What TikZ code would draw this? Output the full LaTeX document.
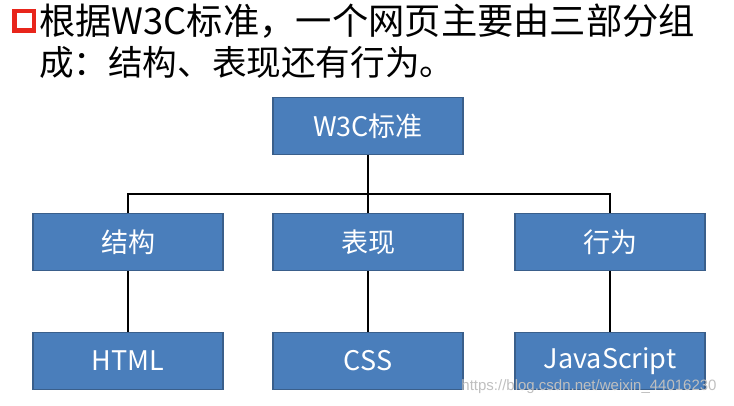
\documentclass[tikz,border=0pt]{standalone}
\usepackage{fontspec}
\setmainfont{Noto Sans CJK SC}
\newfontfamily\markfont{Liberation Sans}
\usetikzlibrary{positioning}
\definecolor{boxblue}{HTML}{4A7EBB}
\definecolor{boxline}{HTML}{3A5F8B}
\definecolor{bulletred}{HTML}{E8251B}

\begin{document}
\begin{tikzpicture}[x=1pt,y=-1pt,
  box/.style={draw=boxline,fill=boxblue,line width=1.5pt,minimum width=190pt,
    minimum height=57pt,inner sep=0pt,text=white,font=\fontsize{27}{30}\selectfont},
  title/.style={anchor=west,inner sep=0pt},
  link/.style={line width=2pt}]
\useasboundingbox (0,0) rectangle (734,406);
% title
\node[draw=bulletred,line width=4.5pt,minimum size=19.5pt,inner sep=0pt] (bullet) at (24,21) {};
\node[title,font=\fontsize{36.3}{40}\selectfont] (line1) at (39,21) {根据W3C标准，一个网页主要由三部分组};
\node[title,font=\fontsize{34.6}{40}\selectfont] (line2) at (39,62) {成：结构、表现还有行为。};
% boxes
\node[box] (w3c) at (368,126) {W3C标准};
\node[box] (jiegou) at (128,242) {结构};
\node[box] (biaoxian) at (368,242) {表现};
\node[box] (xingwei) at (610,242) {行为};
\node[box] (html) at (128,361) {HTML};
\node[box] (css) at (368,361) {CSS};
\node[box] (js) at (610,361) {JavaScript};
% lines
\coordinate (bus) at (368,194);
\draw[link] (w3c) -- (biaoxian);
\draw[link] (jiegou.north) |- (bus) -| (xingwei.north);
\draw[link] (jiegou) -- (html);
\draw[link] (biaoxian) -- (css);
\draw[link] (xingwei) -- (js);
% watermark
\node[text=black!25,font=\fontsize{15}{15}\selectfont\markfont] (mark) at (589,387)
  {https://blog.csdn.net/weixin\_44016230};
\end{tikzpicture}
\end{document}
